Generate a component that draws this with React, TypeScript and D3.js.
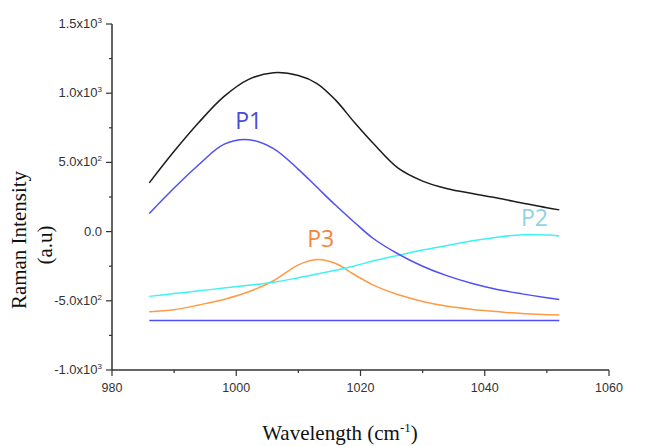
import { useEffect, useRef } from 'react';
import * as d3 from 'd3';

const wavelength = [986, 990, 994, 998, 1002, 1006, 1010, 1013, 1016, 1019, 1022, 1026, 1030, 1034, 1038, 1042, 1046, 1050, 1052];
const total = [352, 580, 790, 975, 1100, 1148, 1128, 1070, 950, 790, 640, 460, 365, 310, 275, 243, 207, 172, 157];
const p1 = [131, 315, 485, 630, 664, 600, 450, 320, 190, 68, -48, -160, -250, -320, -375, -418, -450, -478, -490];
const p2 = [-468, -448, -428, -408, -388, -366, -333, -306, -279, -248, -213, -172, -133, -100, -66, -40, -22, -25, -32];
const p3 = [-580, -565, -530, -490, -435, -355, -240, -201, -230, -310, -385, -455, -505, -540, -562, -578, -592, -600, -603];
const baseline = [-643, -643, -643, -643, -643, -643, -643, -643, -643, -643, -643, -643, -643, -643, -643, -643, -643, -643, -643];

const xTicks = [980, 1000, 1020, 1040, 1060];
const yTicks = [
  { v: 1500, m: '1.5', e: '3' },
  { v: 1000, m: '1.0', e: '3' },
  { v: 500, m: '5.0', e: '2' },
  { v: 0, m: '0.0', e: '' },
  { v: -500, m: '-5.0', e: '2' },
  { v: -1000, m: '-1.0', e: '3' },
];

const series = [
  { values: baseline, color: '#4f4fff' },
  { values: p3, color: '#ff9a45' },
  { values: p2, color: '#3ff2f2' },
  { values: p1, color: '#4f4ff5' },
  { values: total, color: '#1c1c1c' },
];

const peakLabels = [
  { text: 'P1', x: 1002, y: 740, color: '#4a4ad0' },
  { text: 'P3', x: 1013.6, y: -110, color: '#f5843f' },
  { text: 'P2', x: 1048, y: 40, color: '#92d2e4' },
];

export default function App() {
  const ref = useRef<SVGSVGElement>(null);

  useEffect(() => {
    const svg = d3.select(ref.current);
    svg.selectAll('*').remove();

    const width = 645;
    const height = 446;
    const margin = { top: 24, right: 36, bottom: 76, left: 112 };

    const x = d3.scaleLinear().domain([980, 1060]).range([margin.left, width - margin.right]);
    const y = d3.scaleLinear().domain([-1000, 1500]).range([height - margin.bottom, margin.top]);
    const axisColor = '#333';

    // y axis
    const gy = svg.append('g');
    gy.append('line')
      .attr('x1', x(980)).attr('x2', x(980))
      .attr('y1', y(1500)).attr('y2', y(-1000))
      .attr('stroke', axisColor).attr('stroke-width', 1.5);
    d3.range(-1000, 1501, 250).forEach((v) => {
      const major = v % 500 === 0;
      gy.append('line')
        .attr('x1', x(980) - (major ? 6 : 3)).attr('x2', x(980))
        .attr('y1', y(v)).attr('y2', y(v))
        .attr('stroke', axisColor).attr('stroke-width', 1.2);
    });
    yTicks.forEach((t) => {
      const txt = gy.append('text')
        .attr('x', x(980) - 10)
        .attr('y', y(t.v) + 4)
        .attr('text-anchor', 'end')
        .attr('font-family', 'Liberation Sans, Arial, sans-serif')
        .attr('font-size', 13)
        .attr('fill', '#333');
      if (t.e) {
        txt.append('tspan').text(`${t.m}x10`);
        txt.append('tspan').attr('dy', -5).attr('font-size', 8).text(t.e);
      } else {
        txt.text(t.m);
      }
    });

    // x axis
    const gx = svg.append('g');
    gx.append('line')
      .attr('x1', x(980)).attr('x2', x(1060))
      .attr('y1', y(-1000)).attr('y2', y(-1000))
      .attr('stroke', axisColor).attr('stroke-width', 1.5);
    d3.range(980, 1061, 10).forEach((v) => {
      const major = v % 20 === 0;
      gx.append('line')
        .attr('x1', x(v)).attr('x2', x(v))
        .attr('y1', y(-1000)).attr('y2', y(-1000) + (major ? 6 : 3))
        .attr('stroke', axisColor).attr('stroke-width', 1.2);
    });
    gx.selectAll('text.xt')
      .data(xTicks)
      .enter()
      .append('text')
      .attr('x', (d) => x(d))
      .attr('y', y(-1000) + 22)
      .attr('text-anchor', 'middle')
      .attr('font-family', 'Liberation Sans, Arial, sans-serif')
      .attr('font-size', 12.5)
      .attr('fill', '#333')
      .text((d) => d);

    // axis titles
    const xt = svg.append('text')
      .attr('x', 340)
      .attr('y', 440)
      .attr('text-anchor', 'middle')
      .attr('font-family', 'Liberation Serif, Times New Roman, serif')
      .attr('font-size', 21)
      .attr('fill', '#111');
    xt.append('tspan').text('Wavelength (cm');
    xt.append('tspan').attr('dy', -8).attr('font-size', 13).text('-1');
    xt.append('tspan').attr('dy', 8).text(')');

    svg.append('text')
      .attr('transform', 'translate(26,240) rotate(-90)')
      .attr('text-anchor', 'middle')
      .attr('font-family', 'Liberation Serif, Times New Roman, serif')
      .attr('font-size', 21)
      .attr('fill', '#111')
      .text('Raman Intensity');
    svg.append('text')
      .attr('transform', 'translate(52,245) rotate(-90)')
      .attr('text-anchor', 'middle')
      .attr('font-family', 'Liberation Serif, Times New Roman, serif')
      .attr('font-size', 21)
      .attr('fill', '#111')
      .text('(a.u)');

    // curves
    const line = d3
      .line<number>()
      .x((_, i) => x(wavelength[i]))
      .y((d) => y(d))
      .curve(d3.curveCatmullRom);

    series.forEach((s) => {
      svg.append('path')
        .attr('d', line(s.values))
        .attr('fill', 'none')
        .attr('stroke', s.color)
        .attr('stroke-width', 1.5);
    });

    peakLabels.forEach((l) => {
      svg.append('text')
        .attr('x', x(l.x))
        .attr('y', y(l.y))
        .attr('text-anchor', 'middle')
        .attr('font-family', 'Open Sans, sans-serif')
        .attr('font-size', 23)
        .attr('fill', l.color)
        .text(l.text);
    });
  }, []);

  return <svg ref={ref} width={645} height={446} style={{ position: 'absolute', left: 0, top: 0 }}></svg>;
}
